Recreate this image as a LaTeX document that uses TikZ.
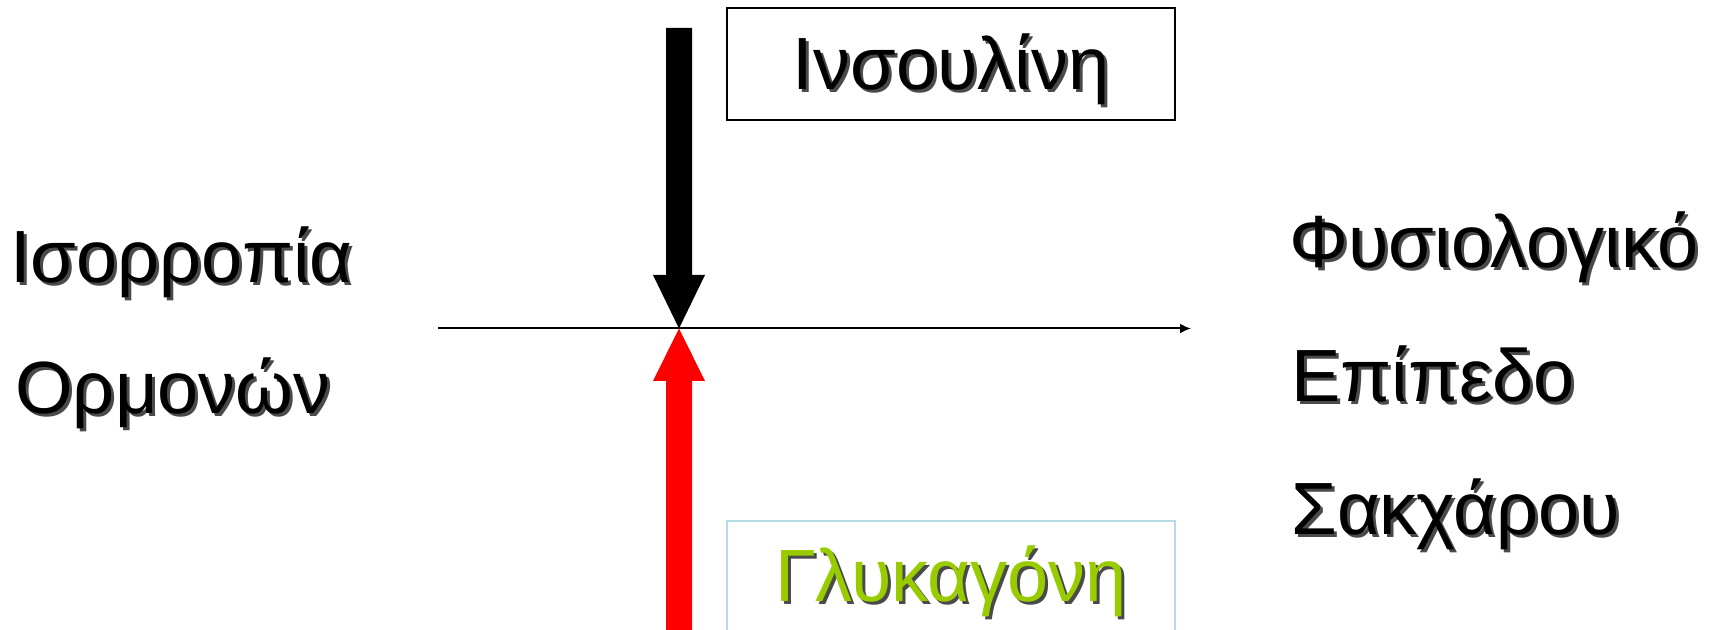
\documentclass[tikz,border=0pt]{standalone}
\usepackage{fontspec}
\setmainfont{Liberation Sans}
\usetikzlibrary{arrows.meta}

\definecolor{shadowgray}{HTML}{4A4A4A}
\definecolor{leafgreen}{HTML}{99CC00}
\definecolor{paleblue}{HTML}{B4DCE4}
\definecolor{arrowred}{HTML}{FF0000}

% text with a small offset drop shadow behind it
\newcommand{\shadowed}[2]{%
  \makebox[0pt][l]{\hspace{1.5pt}\raisebox{-1.5pt}{\color{shadowgray}#2}}{\color{#1}#2}}

\tikzset{
  label/.style={inner sep=0pt, anchor=base west, font=\fontsize{37}{44}\selectfont},
  boxlabel/.style={inner sep=0pt, anchor=base, font=\fontsize{37}{44}\selectfont},
  frame/.style={line width=1pt},
  blockarrow/.style={draw=none},
  axis/.style={line width=1pt, -{Latex[length=5.5pt,width=5pt]}}
}

\begin{document}
\begin{tikzpicture}[x=0.5pt, y=-0.5pt]
  \useasboundingbox (0,0) rectangle (1726,630);
  \clip (0,0) rectangle (1726,630);

  % meeting point of the two hormone arrows on the level axis
  \coordinate (meet) at (679,328.5);
  \coordinate (axisstart) at (438,328.5);
  \coordinate (axisend) at (1191,328.5);

  % level axis
  \draw[axis] (axisstart) -- (axisend);

  % insulin pushes the level down
  \fill[black, blockarrow] (666,28) -- (692,28) -- (692,275) -- (705,275)
        -- (meet) -- (653,275) -- (666,275) -- cycle;

  % glucagon pushes the level up
  \fill[arrowred, blockarrow] (666,640) -- (692,640) -- (692,381) -- (705,381)
        -- (meet) -- (653,381) -- (666,381) -- cycle;

  % hormone boxes
  \draw[frame, black] (727,8.5) rectangle (1175,120.5);
  \draw[frame, paleblue] (727,521) rectangle (1175,660);
  \node[boxlabel] (insulin) at (951,90) {\shadowed{black}{Ινσουλίνη}};
  \node[boxlabel] (glucagon) at (951,602) {\shadowed{leafgreen}{Γλυκαγόνη}};

  % left caption
  \node[label] (bal1) at (10,283) {\shadowed{black}{Ισορροπία}};
  \node[label] (bal2) at (15,414) {\shadowed{black}{Ορμονών}};

  % right caption
  \node[label] (lvl1) at (1289,268) {\shadowed{black}{Φυσιολογικό}};
  \node[label] (lvl2) at (1291,402) {\shadowed{black}{Επίπεδο}};
  \node[label] (lvl3) at (1291,535) {\shadowed{black}{Σακχάρου}};
\end{tikzpicture}
\end{document}
